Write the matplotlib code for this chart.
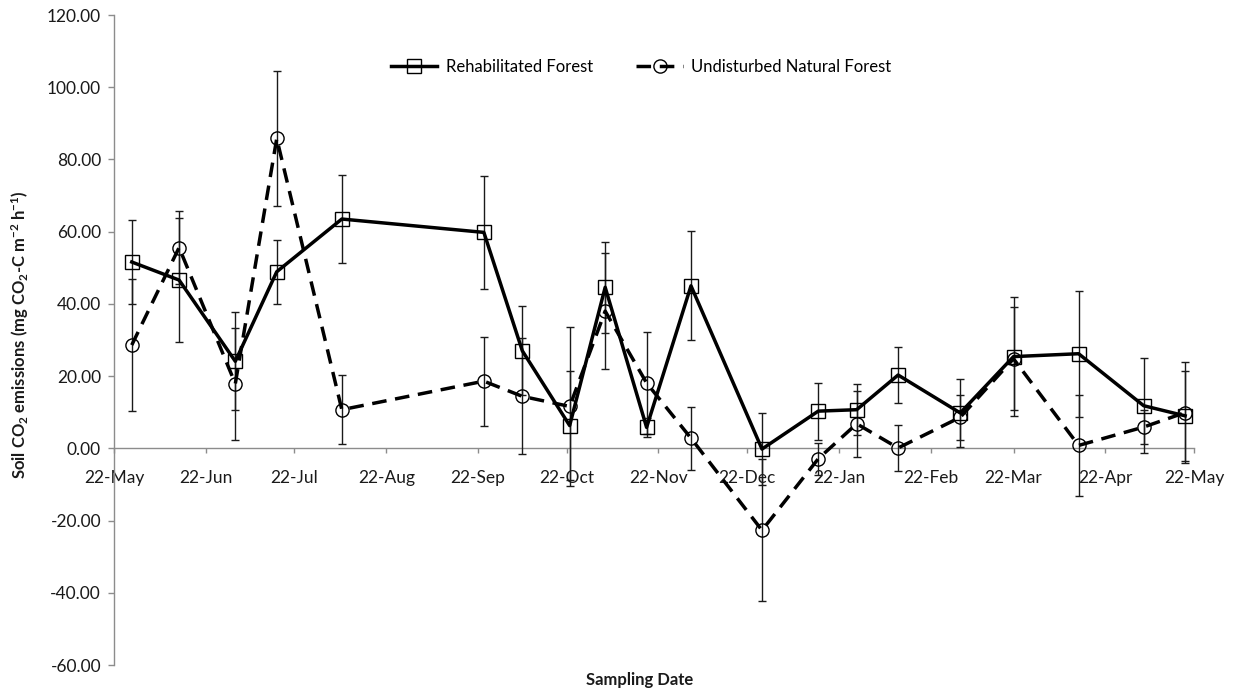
import numpy as np
import pandas as pd
import matplotlib
matplotlib.use("Agg")
import matplotlib.pyplot as plt
import matplotlib.dates as mdates

plt.rcParams["font.family"] = ["Lato", "DejaVu Sans"]
plt.rcParams["mathtext.default"] = "regular"
plt.rcParams["axes.unicode_minus"] = False

# sampling dates and values
dates = pd.to_datetime([
    "2012-05-28", "2012-06-13", "2012-07-02", "2012-07-16", "2012-08-07",
    "2012-09-24", "2012-10-07", "2012-10-23", "2012-11-04", "2012-11-18",
    "2012-12-03", "2012-12-27", "2013-01-15", "2013-01-28", "2013-02-11",
    "2013-03-04", "2013-03-22", "2013-04-13", "2013-05-05", "2013-05-19",
])

rehab = [51.6, 46.6, 24.1, 48.9, 63.5, 59.8, 27.0, 6.3, 44.6, 5.8,
         45.0, -0.2, 10.3, 10.7, 20.3, 9.8, 25.4, 26.2, 11.8, 9.0]
rehab_err = [11.6, 17.2, 13.6, 8.8, 12.2, 15.6, 12.3, 15.2, 12.6, 2.6,
             15.1, 10.0, 7.9, 7.1, 7.8, 9.4, 16.4, 17.4, 13.2, 12.4]

undist = [28.6, 55.6, 17.9, 85.8, 10.7, 18.6, 14.4, 11.6, 38.0, 18.1,
          2.8, -22.7, -2.9, 6.8, 0.1, 8.6, 24.8, 0.8, 5.9, 9.9]
undist_err = [18.4, 10.2, 15.5, 18.6, 9.5, 12.3, 16.1, 22.1, 16.0, 14.0,
              8.7, 19.7, 4.5, 9.2, 6.3, 6.2, 14.2, 14.0, 4.7, 13.9]

labels = ["Rehabilitated Forest", "Undisturbed Natural Forest"]
x_start, x_end = pd.Timestamp("2012-05-22"), pd.Timestamp("2013-05-22")

AXIS = "#8c8c8c"
INK = "#1a1a1a"

fig = plt.figure(figsize=(12.33, 6.90), dpi=100)
ax = fig.add_axes([114/1233, 1 - 665/690, 1080/1233, 650/690])

eb1 = ax.errorbar(dates, rehab, yerr=rehab_err, fmt="-s", color="black",
                  lw=2.5, ms=9.5, mfc="none", mew=1.0, ecolor=INK,
                  elinewidth=1.0, capsize=3, capthick=1.0, zorder=3)
eb2 = ax.errorbar(dates, undist, yerr=undist_err, fmt="--o", color="black",
                  lw=2.5, ms=9.5, mfc="none", mew=1.0, ecolor=INK,
                  elinewidth=1.0, capsize=3, capthick=1.0, zorder=3,
                  dashes=(4.2, 2.5))

ax.set_xlim(x_start, x_end)
ax.set_ylim(-60, 120)
ax.set_yticks(np.arange(-60, 121, 20))
ax.yaxis.set_major_formatter(matplotlib.ticker.FormatStrFormatter("%.2f"))
ax.xaxis.set_major_locator(mdates.MonthLocator(bymonthday=22))
ax.xaxis.set_major_formatter(mdates.DateFormatter("%d-%b"))

for s in ("top", "right"):
    ax.spines[s].set_visible(False)
ax.spines["bottom"].set_position(("data", 0))
for s in ("left", "bottom"):
    ax.spines[s].set_color(AXIS)
    ax.spines[s].set_linewidth(1.0)

ax.tick_params(axis="y", direction="out", length=4.3, width=1.0,
               color=AXIS, labelsize=12.5, labelcolor=INK, pad=5)
ax.tick_params(axis="x", direction="out", length=3.6, width=1.0,
               color=AXIS, labelsize=12.5, labelcolor=INK, pad=12)

ax.legend([eb1.lines[0], eb2.lines[0]], labels, loc="center",
          bbox_to_anchor=(0.488, 0.92), ncol=2, frameon=False, fontsize=12,
          handlelength=2.8, handletextpad=0.5, columnspacing=2.6, numpoints=1)

fig.text(20/1233, 1 - 335/690,
         "Soil CO$_2$ emissions (mg CO$_2$-C m$^{-2}$ h$^{-1}$)",
         rotation=90, ha="center", va="center", fontsize=12,
         fontweight="bold", color=INK)
fig.text(640/1233, 1 - 680/690, "Sampling Date", ha="center", va="center",
         fontsize=12, fontweight="bold", color=INK)

fig.savefig("out.png", dpi=100, facecolor="white")
